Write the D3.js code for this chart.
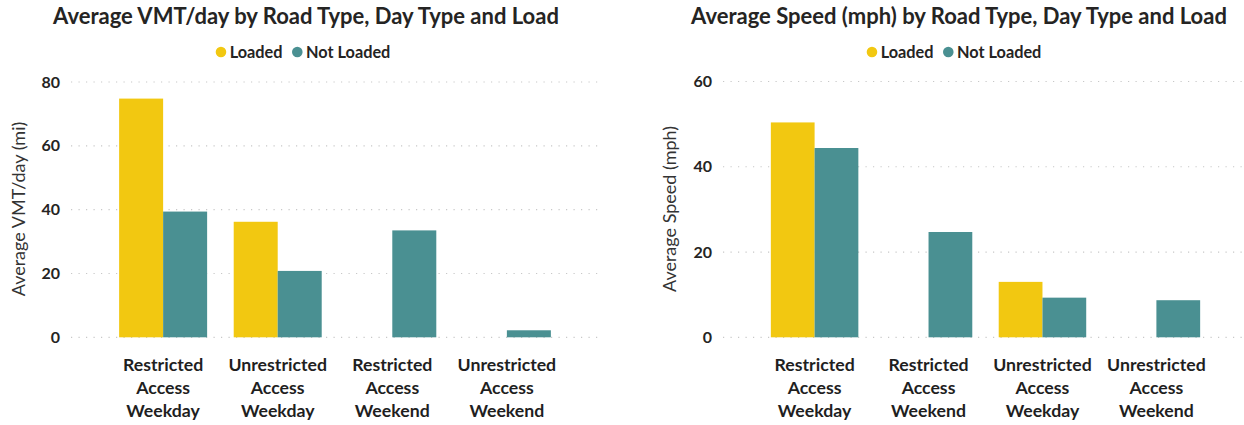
<!DOCTYPE html>
<html>
<head>
<meta charset="utf-8">
<script src="https://cdn.jsdelivr.net/npm/d3@7"></script>
<style>
  html, body { margin: 0; padding: 0; background: #ffffff; }
  svg { display: block; }
  text { font-family: Lato, "Open Sans", sans-serif; }
</style>
</head>
<body>
<svg id="chart" width="1244" height="425"></svg>
<script>
// ---------------- DATA ----------------
const seriesNames = ["Loaded", "Not Loaded"];

// Left chart: Average VMT/day
const vmtCategories = ["Restricted Access Weekday", "Unrestricted Access Weekday", "Restricted Access Weekend", "Unrestricted Access Weekend"];
const vmtLoaded    = [74.8, 36.2, null, null];
const vmtNotLoaded = [39.4, 20.8, 33.5, 2.2];
const vmtTicks = [0, 20, 40, 60, 80];

// Right chart: Average Speed (mph)
const speedCategories = ["Restricted Access Weekday", "Restricted Access Weekend", "Unrestricted Access Weekday", "Unrestricted Access Weekend"];
const speedLoaded    = [50.4, null, 13.0, null];
const speedNotLoaded = [44.4, 24.7, 9.3, 8.7];
const speedTicks = [0, 20, 40, 60];

// ---------------- STYLE ----------------
const colors = { "Loaded": "#F2C811", "Not Loaded": "#4A9092" };

const svg = d3.select("#chart");

function drawChart(cfg) {
  const g = svg.append("g");
  const x0 = d3.scaleBand().domain(cfg.categories).range(cfg.xRange)
    .paddingInner(0.232).paddingOuter(0.42);
  const x1 = d3.scaleBand().domain(seriesNames).range([0, x0.bandwidth()]);
  const y = d3.scaleLinear().domain([0, d3.max(cfg.ticks)]).range([337.3, cfg.yTop]);

  // title
  g.append("text")
    .attr("x", cfg.titleX).attr("y", 24)
    .attr("text-anchor", "middle")
    .attr("font-size", 22).attr("font-weight", 700).attr("fill", "#252423")
    .text(cfg.title);

  // legend
  const leg = g.append("g");
  let cx = 0;
  seriesNames.forEach((s, i) => {
    const it = leg.append("g").attr("transform", `translate(${cx},0)`);
    it.append("circle").attr("cx", 5.3).attr("cy", 52).attr("r", 5.3).attr("fill", colors[s]);
    const t = it.append("text").attr("x", 14).attr("y", 57.6)
      .attr("font-size", 16.3).attr("font-weight", 700).attr("fill", "#252423").text(s);
    cx += 14 + t.node().getComputedTextLength() + 9.5;
  });
  const legW = cx - 9.5;
  leg.attr("transform", `translate(${cfg.legendX - legW / 2},0)`);

  // grid (dotted)
  g.append("g").selectAll("line").data(cfg.ticks).join("line")
    .attr("x1", cfg.gridX[0]).attr("x2", cfg.gridX[1])
    .attr("y1", d => y(d)).attr("y2", d => y(d))
    .attr("stroke", "#C8C8C8").attr("stroke-width", 1.2)
    .attr("stroke-dasharray", "1.2,6.3");

  // y axis labels
  const axisY = d3.axisLeft(y).tickValues(cfg.ticks).tickSize(0).tickPadding(0);
  const ya = g.append("g").attr("transform", `translate(${cfg.tickX},0)`).call(axisY);
  ya.select(".domain").remove();
  ya.selectAll("text")
    .attr("font-family", "Lato, sans-serif")
    .attr("font-size", 16).attr("font-weight", 700).attr("fill", "#252423");

  // y axis title
  g.append("text")
    .attr("transform", `translate(${cfg.axisTitleX},209) rotate(-90)`)
    .attr("text-anchor", "middle").attr("dy", "0.35em")
    .attr("font-size", 18).attr("fill", "#333333")
    .text(cfg.axisTitle);

  // bars
  const rows = cfg.categories.map((c, i) => ({ cat: c, vals: [
    { s: "Loaded", v: cfg.loaded[i] }, { s: "Not Loaded", v: cfg.notLoaded[i] }] }));
  g.append("g").selectAll("g").data(rows).join("g")
    .attr("transform", d => `translate(${x0(d.cat)},0)`)
    .selectAll("rect").data(d => d.vals.filter(v => v.v != null)).join("rect")
    .attr("x", d => x1(d.s)).attr("width", x1.bandwidth())
    .attr("y", d => y(d.v)).attr("height", d => y(0) - y(d.v))
    .attr("fill", d => colors[d.s]);

  // category labels (wrapped into 3 lines)
  const cl = g.append("g").selectAll("text").data(cfg.categories).join("text")
    .attr("text-anchor", "middle")
    .attr("font-size", 17.7).attr("font-weight", 700).attr("fill", "#1f1f1f");
  cl.each(function(d) {
    const words = d.split(" ");
    const t = d3.select(this);
    words.forEach((w, i) => {
      t.append("tspan").attr("x", x0(d) + x0.bandwidth() / 2)
        .attr("y", 370.7 + i * 23.3).text(w);
    });
  });
}

drawChart({
  title: "Average VMT/day by Road Type, Day Type and Load",
  titleX: 306, legendX: 303,
  categories: vmtCategories, loaded: vmtLoaded, notLoaded: vmtNotLoaded,
  ticks: vmtTicks, yTop: 82,
  xRange: [71, 599], gridX: [71, 599], tickX: 60,
  axisTitle: "Average VMT/day (mi)", axisTitleX: 19
});

drawChart({
  title: "Average Speed (mph) by Road Type, Day Type and Load",
  titleX: 959, legendX: 954,
  categories: speedCategories, loaded: speedLoaded, notLoaded: speedNotLoaded,
  ticks: speedTicks, yTop: 81.5,
  xRange: [723, 1248], gridX: [723, 1244], tickX: 712,
  axisTitle: "Average Speed (mph)", axisTitleX: 670
});
</script>
</body>
</html>
